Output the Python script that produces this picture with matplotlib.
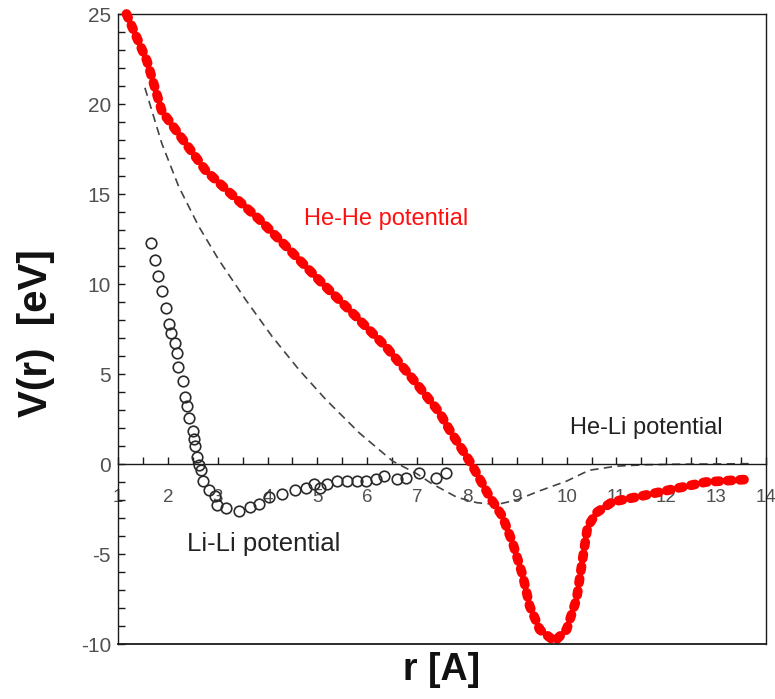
import matplotlib
matplotlib.use("Agg")
import matplotlib.pyplot as plt
from matplotlib.ticker import MultipleLocator

plt.rcParams['font.family'] = ['Liberation Sans', 'DejaVu Sans']
plt.rcParams['axes.unicode_minus'] = False

# He-He interaction potential (eV) vs separation r (Angstrom)
he_he_r = [1.17, 1.58, 1.88, 2.36, 2.76, 3.23, 3.83, 4.37, 5.04, 5.70, 6.38,
           6.98, 7.45, 7.65, 8.09, 8.45, 8.71, 8.92, 9.12, 9.26, 9.46, 9.76,
           10.0, 10.2, 10.32, 10.42, 10.6, 10.92, 11.47, 12.13, 12.8, 13.6]
he_he_v = [25.0, 22.4, 19.6, 17.8, 16.3, 15.1, 13.6, 12.1, 10.2, 8.4, 6.5,
           4.5, 2.86, 1.9, 0.0, -1.8, -2.9, -4.4, -6.2, -7.9, -9.2, -9.85,
           -9.2, -7.5, -5.3, -3.5, -2.7, -2.1, -1.8, -1.4, -1.0, -0.86]

# He-Li interaction potential
he_li_r = [1.54, 1.88, 2.22, 2.62, 3.02, 3.56, 4.09, 4.63, 5.17, 5.84, 6.51,
           7.0, 7.3, 7.8, 8.2, 8.6, 9.0, 9.45, 10.0, 10.45, 11.0, 11.6, 12.3,
           13.0, 13.68]
he_li_v = [20.9, 17.8, 15.4, 13.2, 11.35, 9.13, 7.09, 5.24, 3.58, 1.73, 0.16,
           -0.55, -1.1, -1.85, -2.15, -2.25, -2.0, -1.5, -0.95, -0.35, -0.12,
           -0.04, -0.01, 0.0, 0.02]

# Li-Li interaction potential (sampled points)
li_li_r = [1.661, 1.750, 1.802, 1.882, 1.963, 2.017, 2.071, 2.138, 2.184,
           2.204, 2.298, 2.353, 2.385, 2.419, 2.499, 2.520, 2.540, 2.586,
           2.620, 2.674, 2.700, 2.821, 2.942, 2.988, 3.157, 3.424, 3.645,
           3.826, 4.037, 4.294, 4.560, 4.781, 4.932, 5.052, 5.199, 5.400,
           5.601, 5.802, 5.971, 6.178, 6.329, 6.590, 6.775, 7.036, 7.370,
           7.585]
li_li_v = [12.28, 11.31, 10.46, 9.61, 8.67, 7.80, 7.28, 6.73, 6.17, 5.39,
           4.59, 3.73, 3.21, 2.56, 1.82, 1.40, 0.99, 0.40, -0.03, -0.34,
           -0.92, -1.42, -1.79, -2.25, -2.47, -2.61, -2.41, -2.22, -1.86,
           -1.66, -1.42, -1.32, -1.11, -1.32, -1.12, -0.95, -0.95, -0.97,
           -0.95, -0.82, -0.64, -0.82, -0.79, -0.51, -0.75, -0.51]

fig = plt.figure(figsize=(7.75, 6.99), dpi=100)
ax = fig.add_axes([118 / 775, 1 - 644 / 699, 648 / 775, 630 / 699])

ax.plot(he_li_r, he_li_v, color='#444444', lw=1.2,
        linestyle=(0, (5.0, 3.2)), zorder=2)
ax.plot(li_li_r, li_li_v, linestyle='none', marker='o', ms=7.6,
        mfc='none', mec='#2a2a2a', mew=1.2, zorder=3)
ax.plot(he_he_r, he_he_v, color='#ff0000', lw=7.0,
        linestyle=(0, (0.42, 0.85)), dash_capstyle='round',
        solid_capstyle='round', zorder=4, clip_on=False)

ax.set_xlim(1, 14)
ax.set_ylim(-10, 25)

# x axis drawn through V = 0, frame kept around the plot
ax.spines['bottom'].set_position(('data', 0))
for s in ax.spines.values():
    s.set_linewidth(1.0)
    s.set_color('#1a1a1a')
ax.plot([0, 1], [0, 0], transform=ax.transAxes, color='#1a1a1a', lw=1.3,
        clip_on=False, zorder=5)

ax.xaxis.set_major_locator(MultipleLocator(1))
ax.xaxis.set_minor_locator(MultipleLocator(0.5))
ax.yaxis.set_major_locator(MultipleLocator(5))
ax.yaxis.set_minor_locator(MultipleLocator(1))

ax.tick_params(axis='x', which='both', direction='in', length=5, width=1.0,
               color='#1a1a1a', pad=18, labelsize=13.5, labelcolor='#505050',
               top=False)
ax.tick_params(axis='y', which='both', direction='in', length=5, width=1.0,
               color='#1a1a1a', pad=5, labelsize=15, labelcolor='#505050',
               right=False)

ax.set_ylabel('V(r)  [eV]', fontsize=29, fontweight='bold', color='#111111')
ax.yaxis.set_label_coords(-0.097, 0.494)
ax.set_xlabel('r [A]', fontsize=27, fontweight='bold', color='#111111')
ax.xaxis.set_label_coords(0.5, -0.012)

ax.text(4.73, 13.29, 'He-He potential', color='#ff1010', fontsize=17)
ax.text(10.06, 1.64, 'He-Li potential', color='#222222', fontsize=17)
ax.text(2.38, -4.86, 'Li-Li potential', color='#222222', fontsize=18.5)

fig.savefig('out.png', dpi=100)
